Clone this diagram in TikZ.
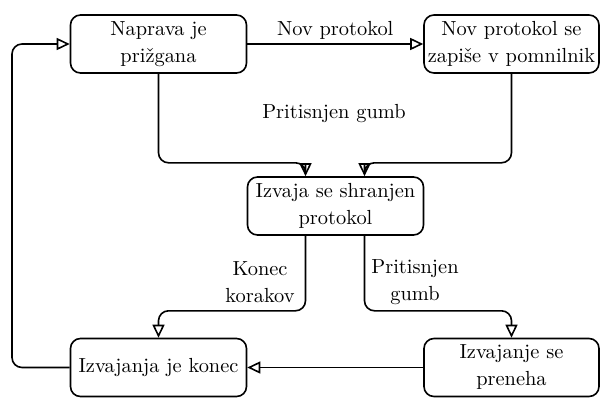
\documentclass[tikz,border=0pt]{standalone}
\usepackage{fontspec}
\usetikzlibrary{calc,arrows.meta}

\begin{document}
\begin{tikzpicture}[x=0.5pt,y=-0.5pt,
  stanje/.style={draw,line width=0.8pt,rounded corners=5pt,align=center,
    minimum width=88pt,minimum height=29pt,inner sep=1pt,
    font=\fontsize{10.2}{13.5}\selectfont},
  prehod/.style={line width=0.8pt,rounded corners=5pt,
    -{Triangle[open,length=6.5pt,width=6pt]}},
  napis/.style={align=center,inner sep=1pt,font=\fontsize{10.2}{13.5}\selectfont}]
\useasboundingbox (0,0) rectangle (600,397);
% stanja
\node[stanje] (vklop) at (158.5,44) {Naprava je\\prižgana};
\node[stanje,minimum width=87.5pt] (zapis) at (511.5,44) {Nov protokol se\\zapiše v pomnilnik};
\node[stanje] (izvaja) at (335.5,206) {Izvaja se shranjen\\protokol};
\node[stanje] (konec) at (158.5,367.5) {Izvajanja je konec};
\node[stanje,minimum width=87.5pt] (prekinitev) at (511.5,367.5) {Izvajanje se\\preneha};
\coordinate (nazaj) at (12,0); % leva povratna linija
% prehodi
\draw[prehod] (vklop) -- (zapis) node[napis,midway,above=1pt] {Nov protokol};
\draw[prehod] (vklop.south) -- ++(0,89) -| ($(izvaja.north)+(-30,0)$);
\draw[prehod] (zapis.south) -- ++(0,89) -| ($(izvaja.north)+(29,0)$);
\node[napis] (gumb1) at (334,114) {Pritisnjen gumb};
\draw[prehod] ($(izvaja.south)+(-30,0)$) -- ++(0,75) -| (konec.north);
\node[napis] (korakov) at (260,282) {Konec\\korakov};
\draw[prehod] ($(izvaja.south)+(29,0)$) -- ++(0,75) -| (prekinitev.north);
\node[napis] (gumb2) at (415,282) {Pritisnjen\\gumb};
\draw[prehod] (prekinitev) -- (konec);
\draw[prehod] (konec.west) -- (konec.west -| nazaj) -- (vklop.west -| nazaj) -- (vklop.west);
\end{tikzpicture}
\end{document}
